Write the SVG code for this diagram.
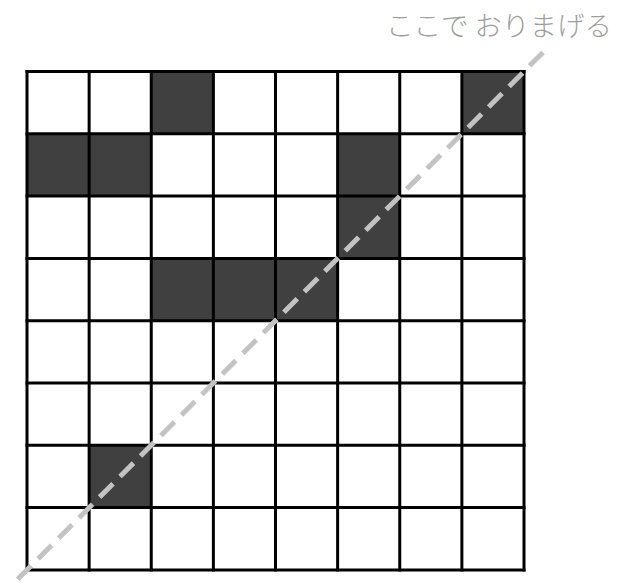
<svg xmlns="http://www.w3.org/2000/svg" width="619" height="582" viewBox="0 0 619 582">
  <style>
    .dark { fill: #404040; stroke: none; }
    .grid { fill: none; stroke: #000000; stroke-width: 3; stroke-linecap: square; }
    .fold { fill: none; stroke: #c3c3c3; stroke-width: 5; stroke-dasharray: 19 10; }
    .label { font-family: "Noto Sans CJK JP", "Noto Sans", sans-serif; font-size: 27.5px; font-weight: 300; fill: #9e9e9e; }
  </style>
  <rect x="0" y="0" width="619" height="582" fill="#ffffff"/>
  <g id="dark-cells">
    <rect class="dark" x="151.25" y="71.5" width="62.125" height="62.3"/>
    <rect class="dark" x="461.875" y="71.5" width="62.125" height="62.3"/>
    <rect class="dark" x="27" y="133.8" width="62.125" height="62.3"/>
    <rect class="dark" x="89.125" y="133.8" width="62.125" height="62.3"/>
    <rect class="dark" x="337.625" y="133.8" width="62.125" height="62.3"/>
    <rect class="dark" x="337.625" y="196.1" width="62.125" height="62.3"/>
    <rect class="dark" x="151.25" y="258.4" width="62.125" height="62.3"/>
    <rect class="dark" x="213.375" y="258.4" width="62.125" height="62.3"/>
    <rect class="dark" x="275.5" y="258.4" width="62.125" height="62.3"/>
    <rect class="dark" x="89.125" y="445.3" width="62.125" height="62.3"/>
  </g>
  <g id="grid">
    <path class="grid" d="M27 71.5V569.9 M89.125 71.5V569.9 M151.25 71.5V569.9 M213.375 71.5V569.9 M275.5 71.5V569.9 M337.625 71.5V569.9 M399.75 71.5V569.9 M461.875 71.5V569.9 M524 71.5V569.9"/>
    <path class="grid" d="M27 71.5H524 M27 133.8H524 M27 196.1H524 M27 258.4H524 M27 320.7H524 M27 383H524 M27 445.3H524 M27 507.6H524 M27 569.9H524"/>
  </g>
  <g id="connectors">
    <path class="fold" d="M543 52.4 L-3 600"/>
  </g>
  <g id="label">
    <text class="label" x="612" y="36" text-anchor="end">ここで おりまげる</text>
  </g>
</svg>
